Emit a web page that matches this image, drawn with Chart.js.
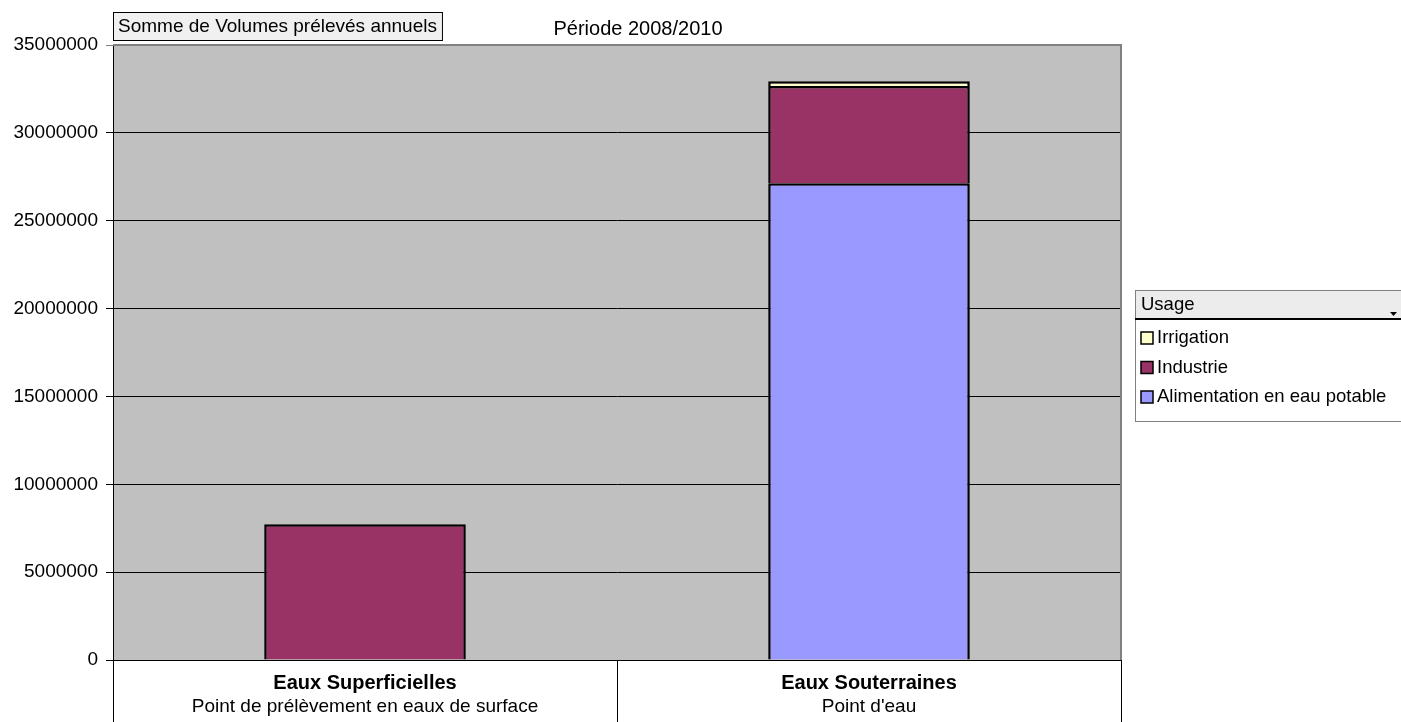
<!DOCTYPE html>
<html>
<head>
<meta charset="utf-8">
<script src="https://cdn.jsdelivr.net/npm/chart.js@4.4.1/dist/chart.umd.min.js"></script>
<style>
  body { margin: 0; background: #fff; }
  #chart { display: block; }
</style>
</head>
<body>
<canvas id="chart" width="1401" height="722"></canvas>
<script>
const categoryNames = ['Eaux Superficielles', 'Eaux Souterraines'];
const categorySubs = ['Point de prélèvement en eaux de surface', "Point d'eau"];
const alimentation = [null, 27130000];
const industrie = [7720000, 5530000];
const irrigation = [null, 280000];
const yTicks = [0, 5000000, 10000000, 15000000, 20000000, 25000000, 30000000, 35000000];

const FONT = '"Liberation Sans", Arial, sans-serif';

// draws the grey plot background, header texts, category cells and legend
const decor = {
    id: 'decor',
    beforeDraw(chart) {
        const { ctx, chartArea: a } = chart;
        ctx.save();
        ctx.fillStyle = '#c0c0c0';
        ctx.fillRect(a.left, a.top, a.right - a.left, a.bottom - a.top);
        ctx.restore();
    },
    afterDraw(chart) {
        const { ctx, chartArea: a } = chart;
        ctx.save();
        // plot border
        ctx.strokeStyle = '#808080';
        ctx.lineWidth = 2;
        ctx.beginPath();
        ctx.moveTo(a.left, a.top);
        ctx.lineTo(a.right, a.top);
        ctx.lineTo(a.right, a.bottom);
        ctx.stroke();

        // header box + title
        ctx.font = '19px ' + FONT;
        ctx.textBaseline = 'middle';
        ctx.textAlign = 'left';
        const head = 'Somme de Volumes prélevés annuels';
        const w = ctx.measureText(head).width;
        ctx.fillStyle = '#f0f0f0';
        ctx.fillRect(113, 12, w + 10, 28);
        ctx.strokeStyle = '#000';
        ctx.lineWidth = 1;
        ctx.strokeRect(113.5, 12.5, w + 10, 28);
        ctx.fillStyle = '#000';
        ctx.fillText(head, 118, 27);
        ctx.textAlign = 'center';
        ctx.font = '20px ' + FONT;
        ctx.fillText('Période 2008/2010', 638, 29);

        // category labels
        const x = chart.scales.x;
        categoryNames.forEach((name, i) => {
            const cx = x.getPixelForValue(i);
            ctx.font = 'bold 20px ' + FONT;
            ctx.fillText(name, cx, a.bottom + 23);
            ctx.font = '19px ' + FONT;
            ctx.fillText(categorySubs[i], cx, a.bottom + 47);
        });

        // legend
        const lx = 1135, ly = 290;
        ctx.fillStyle = '#ececec';
        ctx.fillRect(lx, ly, 1401 - lx, 28);
        ctx.strokeStyle = '#808080';
        ctx.lineWidth = 1;
        ctx.strokeRect(lx + 0.5, ly + 0.5, 1401 - lx, 131);
        ctx.fillStyle = '#000';
        ctx.fillRect(lx, ly + 28, 1401 - lx, 2);
        ctx.beginPath();
        ctx.moveTo(1390, 312);
        ctx.lineTo(1397, 312);
        ctx.lineTo(1393.5, 316);
        ctx.closePath();
        ctx.fill();
        ctx.textAlign = 'left';
        ctx.font = '18.5px ' + FONT;
        ctx.fillText('Usage', lx + 6, ly + 15);
        const items = chart.data.datasets.slice().reverse();
        items.forEach((ds, i) => {
            const iy = ly + 48 + i * 29.5;
            ctx.fillStyle = ds.backgroundColor;
            ctx.fillRect(lx + 6, iy - 6, 12, 12);
            ctx.strokeStyle = '#000';
            ctx.lineWidth = 1.5;
            ctx.strokeRect(lx + 6, iy - 6, 12, 12);
            ctx.fillStyle = '#000';
            ctx.fillText(ds.label, lx + 22, iy);
        });
        ctx.restore();
    }
};

new Chart(document.getElementById('chart'), {
    type: 'bar',
    data: {
        labels: categoryNames,
        datasets: [
            { label: 'Alimentation en eau potable', data: alimentation, backgroundColor: '#9999ff' },
            { label: 'Industrie', data: industrie, backgroundColor: '#993366' },
            { label: 'Irrigation', data: irrigation, backgroundColor: '#ffffcc' }
        ]
    },
    options: {
        responsive: false,
        animation: false,
        layout: { padding: { top: 45, right: 280, left: 0, bottom: 0 } },
        datasets: {
            bar: {
                borderColor: '#000',
                borderWidth: 2.5,
                barPercentage: 0.4,
                categoryPercentage: 1
            }
        },
        plugins: {
            legend: { display: false },
            tooltip: { enabled: false }
        },
        scales: {
            x: {
                stacked: true,
                afterFit: s => { s.height = 62; },
                ticks: { display: false },
                grid: {
                    offset: true,
                    drawOnChartArea: false,
                    tickLength: 62,
                    color: '#000'
                },
                border: { color: '#000', width: 1 }
            },
            y: {
                stacked: true,
                min: 0,
                max: 35000000,
                afterFit: s => { s.width = 113; },
                afterBuildTicks: s => { s.ticks = yTicks.map(v => ({ value: v })); },
                ticks: {
                    color: '#000',
                    padding: 8,
                    font: { family: FONT, size: 19 },
                    callback: v => String(v)
                },
                grid: {
                    color: c => c.tick && c.tick.value === 35000000 ? '#808080' : '#000',
                    tickLength: 7
                },
                border: { color: '#000', width: 1 }
            }
        }
    },
    plugins: [decor]
});
</script>
</body>
</html>
